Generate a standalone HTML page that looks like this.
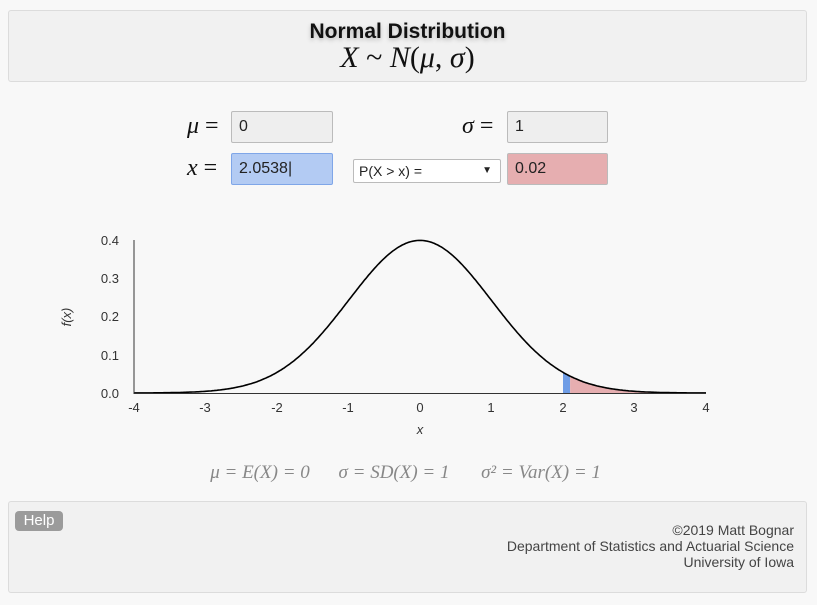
<!DOCTYPE html>
<html><head><meta charset="utf-8"><style>
body{margin:0;width:817px;height:605px;background:#f8f8f8;font-family:"Liberation Sans",sans-serif;position:relative;overflow:hidden}
.box{position:absolute;left:8px;width:797px;background:#f1f1f1;border:1px solid #dcdcdc;border-radius:3px}
.inp{position:absolute;height:32px;box-sizing:border-box;border:1px solid #bbb;border-radius:2px;font-size:16px;line-height:30px;padding-left:7px;color:#222}
.lbl{position:absolute;font-size:24px;font-family:"Liberation Serif",serif;color:#111}
</style></head><body>
<div class="box" style="top:10px;height:70px">
<div style="position:absolute;left:0;right:0;top:9px;text-align:center;font-weight:bold;font-size:21px;color:#111;text-shadow:0 2px 4px #bbb">Normal Distribution</div>
<div style="position:absolute;left:0;right:0;top:30px;text-align:center;font-size:30px;font-family:'Liberation Serif',serif;color:#111"><i>X</i> ~ <i>N</i>(<i>μ</i>, <i>σ</i>)</div>
</div>
<div class="lbl" style="left:187px;top:113px"><i>μ</i> =</div>
<div class="inp" style="left:231px;top:111px;width:102px;background:#eee">0</div>
<div class="lbl" style="left:462px;top:113px"><i>σ</i> =</div>
<div class="inp" style="left:507px;top:111px;width:101px;background:#eee">1</div>
<div class="lbl" style="left:187px;top:155px"><i>x</i> =</div>
<div class="inp" style="left:231px;top:153px;width:102px;background:#b3cbf3;border:1px solid #7fa6e8">2.0538|</div>
<div class="inp" style="left:353px;top:159px;width:148px;height:24px;line-height:22px;background:#fff;font-size:14px;padding-left:5px">P(X &gt; x) =<span style="position:absolute;right:8px;font-size:10px">▼</span></div>
<div class="inp" style="left:507px;top:153px;width:101px;background:#e6aeb0">0.02</div>
<svg style="position:absolute;left:0;top:0" width="817" height="605">
<g id="g"></g>
<line x1="134" y1="240" x2="134" y2="394" stroke="#333"/>
<line x1="134" y1="393.5" x2="706" y2="393.5" stroke="#333"/>
<g font-size="13" fill="#333" text-anchor="end">
<text x="119" y="398">0.0</text><text x="119" y="360">0.1</text><text x="119" y="321">0.2</text><text x="119" y="283">0.3</text><text x="119" y="245">0.4</text></g>
<g font-size="13" fill="#333" text-anchor="middle">
<text x="134" y="412">-4</text><text x="205" y="412">-3</text><text x="277" y="412">-2</text><text x="348" y="412">-1</text><text x="420" y="412">0</text><text x="491" y="412">1</text><text x="563" y="412">2</text><text x="634" y="412">3</text><text x="706" y="412">4</text>
<text x="420" y="434" font-style="italic">x</text>
<text transform="translate(71,317) rotate(-90)" font-style="italic">f(x)</text></g>
<g font-size="19" fill="#888" font-family="Liberation Serif,serif" font-style="italic" text-anchor="middle">
<text x="260" y="478">μ = E(X) = 0</text>
<text x="394" y="478">σ = SD(X) = 1</text>
<text x="541" y="478">σ² = Var(X) = 1</text></g>
</svg>
<div class="box" style="top:501px;height:90px"></div>
<div style="position:absolute;left:15px;top:511px;width:48px;height:20px;background:#9b9b9b;color:#fff;border-radius:4px;text-align:center;line-height:20px;font-size:15px">Help</div>
<div style="position:absolute;right:23px;top:522px;text-align:right;font-size:14px;line-height:16px;color:#444">©2019 Matt Bognar<br>Department of Statistics and Actuarial Science<br>University of Iowa</div>
<script>
var X=function(v){return 420+v*71.5},Y=function(v){return 393-v*382.5},f=function(z){return Math.exp(-z*z/2)/Math.sqrt(2*Math.PI)};
var s='';
for(var z=-4;z<=4.0001;z+=0.02){s+=(s?'L':'M')+X(z).toFixed(1)+' '+Y(f(z)).toFixed(1)}
function area(a,b){var d='M'+X(a)+' 393';for(var z=a;z<=b+1e-6;z+=0.01)d+='L'+X(z).toFixed(1)+' '+Y(f(z)).toFixed(1);return d+'L'+X(b)+' 393Z'}
document.getElementById('g').innerHTML='<path d="'+area(2,2.1)+'" fill="#6f9de6"/><path d="'+area(2.1,4)+'" fill="#e6aeb0"/><path d="'+s+'" fill="none" stroke="#000" stroke-width="1.6"/>';
</script>
</body></html>
